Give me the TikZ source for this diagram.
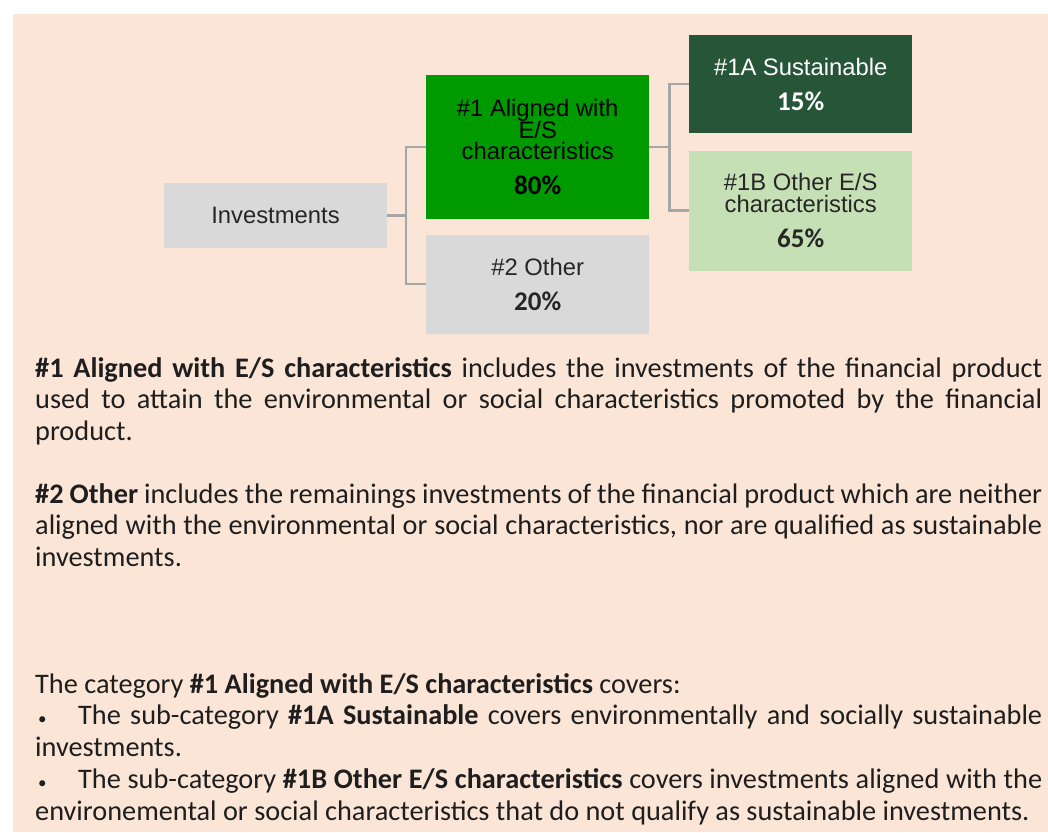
\documentclass[tikz,border=0pt]{standalone}
\usepackage{fontspec}
\setmainfont{Carlito}[WordSpace={1,1,2}]
\newfontfamily\boxfont{Liberation Sans}
\usetikzlibrary{positioning}
\definecolor{peach}{HTML}{FBE5D6}
\definecolor{greybox}{HTML}{D9D9D9}
\definecolor{alignedgreen}{HTML}{009900}
\definecolor{sustgreen}{HTML}{265538}
\definecolor{othergreen}{HTML}{C5E0B4}
\definecolor{connector}{HTML}{A6A6A6}
\definecolor{boxtext}{HTML}{262626}
\definecolor{bodytext}{HTML}{1E1E1E}
\newcommand{\pct}[1]{{\rmfamily\fontsize{27}{21.5}\selectfont\bfseries #1}}
\newcommand{\itembullet}{\makebox[43pt][l]{\hspace{3pt}{\fontsize{17}{17}\selectfont\textbullet}}}

\begin{document}
\begin{tikzpicture}[x=1pt,y=-1pt,
    box/.style={inner sep=0pt, align=center, text=boxtext, minimum width=223pt,
        font={\boxfont\fontsize{23.8}{21.5}\selectfont\lineskiplimit=-50pt}},
    conn/.style={draw=connector, line width=2.5pt},
    body/.style={anchor=north west, inner sep=0pt, text width=1007pt, align=justify, text=bodytext,
        font={\fontsize{28.3}{31.7}\selectfont\parindent=0pt\hyphenpenalty=10000\tolerance=10000}}]
    \fill[white] (0,0) rectangle (1048,832);
    \fill[peach] (13,14) rectangle (1048,832);
    \useasboundingbox (0,0) rectangle (1048,832);

    % tree
    \node[box, fill=greybox, minimum height=65pt] (inv) at (275.5,215.5) {Investments};
    \node[box, fill=alignedgreen, text=black, minimum height=144pt, anchor=north west] (al) at (426,75)
        {\#1 Aligned with\\E/S\\characteristics\\[13.5pt]\pct{80\%}};
    \node[box, fill=greybox, minimum height=99pt, below=15pt of al] (oth)
        {\#2 Other\\[13.5pt]\pct{20\%}};
    \node[box, fill=sustgreen, text=white, minimum height=98pt, anchor=north west] (sust) at (689,35)
        {\#1A Sustainable\\[13.5pt]\pct{15\%}};
    \node[box, fill=othergreen, minimum height=120pt, below=17pt of sust] (ob)
        {\#1B Other E/S\\characteristics\\[13.5pt]\pct{65\%}};

    \draw[conn] (inv.east) -- ++(19,0) |- (al.west);
    \draw[conn] (inv.east) -- ++(19,0) |- (oth.west);
    \draw[conn] (al.east) -- ++(20,0) |- (sust.west);
    \draw[conn] (al.east) -- ++(20,0) |- (ob.west);

    % explanations
    \node[body] (p1) at (35,354.8) {\strut\textbf{\#1 Aligned with E/S characteristics} includes the investments of the financial product\linebreak
        used to attain the environmental or social characteristics promoted by the financial\linebreak
        product.};
    \node[body] (p2) at (35,480.8) {\strut\textbf{\#2 Other} includes the remainings investments of the financial product which are neither\linebreak
        aligned with the environmental or social characteristics, nor are qualified as sustainable\linebreak
        investments.};
    \node[body] (p3) at (35,670.8) {\strut The category \textbf{\#1 Aligned with E/S characteristics} covers:\par
        \itembullet The sub-category \textbf{\#1A Sustainable} covers environmentally and socially sustainable\linebreak
        investments.\par
        \itembullet The sub-category \textbf{\#1B Other E/S characteristics} covers investments aligned with the\linebreak
        environemental or social characteristics that do not qualify as sustainable investments.};
\end{tikzpicture}
\end{document}
